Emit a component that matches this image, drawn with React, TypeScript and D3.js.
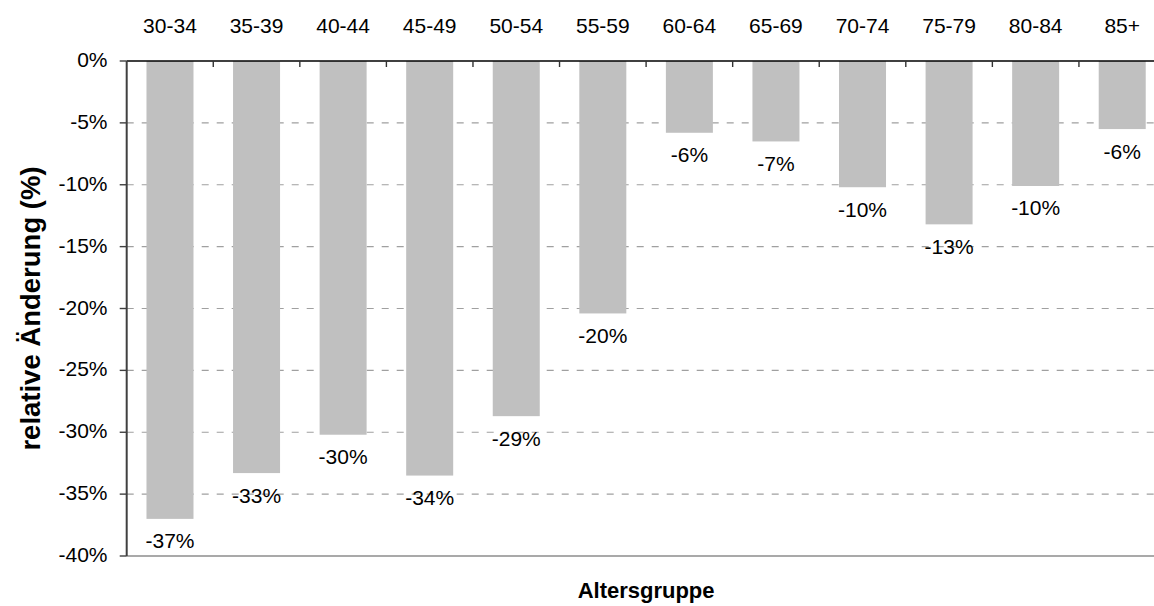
import React, { useEffect, useRef } from "react";
import * as d3 from "d3";

// Age groups and relative change in percent
const categories: string[] = [
  "30-34", "35-39", "40-44", "45-49", "50-54", "55-59",
  "60-64", "65-69", "70-74", "75-79", "80-84", "85+",
];
const changes: number[] = [
  -37.0, -33.3, -30.2, -33.5, -28.7, -20.4,
  -5.8, -6.5, -10.2, -13.2, -10.1, -5.5,
];
const yTicks: number[] = [0, -5, -10, -15, -20, -25, -30, -35, -40];

const xTitle = "Altersgruppe";
const yTitle = "relative Änderung (%)";

const W = 1154;
const H = 606;
const FONT = "'Liberation Sans', Arial, Helvetica, sans-serif";

const fmtPct = (v: number) =>
  `${v < 0 ? "-" : ""}${Math.round(Math.abs(v))}%`;

export default function App() {
  const ref = useRef<SVGSVGElement | null>(null);

  useEffect(() => {
    const svg = d3.select(ref.current);
    svg.selectAll("*").remove();

    const left = 126.7;
    const right = 1165.5;
    const top = 61;
    const bottom = 556;

    const x = d3
      .scaleBand<string>()
      .domain(categories)
      .range([left, right])
      .paddingInner(0.457)
      .paddingOuter(0.2285);

    const y = d3.scaleLinear().domain([0, -40]).range([top, bottom]);

    const g = svg.append("g");

    // horizontal gridlines (dashed), bottom line solid
    yTicks
      .filter((t) => t !== 0 && t !== -40)
      .forEach((t) => {
        g.append("line")
          .attr("x1", left)
          .attr("x2", right)
          .attr("y1", y(t))
          .attr("y2", y(t))
          .attr("stroke", "#a0a0a0")
          .attr("stroke-width", 1.2)
          .attr("stroke-dasharray", "7,8");
      });
    g.append("line")
      .attr("x1", left)
      .attr("x2", right)
      .attr("y1", y(-40))
      .attr("y2", y(-40))
      .attr("stroke", "#8c8c8c")
      .attr("stroke-width", 1.5);

    // bars
    g.selectAll("rect.bar")
      .data(categories)
      .enter()
      .append("rect")
      .attr("class", "bar")
      .attr("x", (c) => x(c)!)
      .attr("width", x.bandwidth())
      .attr("y", y(0))
      .attr("height", (_c, i) => y(changes[i]) - y(0))
      .attr("fill", "#c0c0c0");

    // value labels below each bar
    g.selectAll("text.val")
      .data(categories)
      .enter()
      .append("text")
      .attr("class", "val")
      .attr("x", (c) => x(c)! + x.bandwidth() / 2)
      .attr("y", (_c, i) => y(changes[i]) + 29.5)
      .attr("text-anchor", "middle")
      .attr("font-family", FONT)
      .attr("font-size", 21)
      .attr("fill", "#000")
      .text((_c, i) => fmtPct(changes[i]));

    // top category axis at 0%
    g.append("line")
      .attr("x1", left)
      .attr("x2", right)
      .attr("y1", y(0))
      .attr("y2", y(0))
      .attr("stroke", "#000")
      .attr("stroke-width", 1.6);
    const step = x.step();
    d3.range(1, categories.length).forEach((k) => {
      const bx = left + k * step;
      g.append("line")
        .attr("x1", bx)
        .attr("x2", bx)
        .attr("y1", y(0))
        .attr("y2", y(0) + 6)
        .attr("stroke", "#333")
        .attr("stroke-width", 1.4);
    });
    g.selectAll("text.cat")
      .data(categories)
      .enter()
      .append("text")
      .attr("class", "cat")
      .attr("x", (c) => x(c)! + x.bandwidth() / 2)
      .attr("y", 32.7)
      .attr("text-anchor", "middle")
      .attr("font-family", FONT)
      .attr("font-size", 21)
      .attr("fill", "#000")
      .text((c) => c);

    // value axis on the left
    g.append("line")
      .attr("x1", left)
      .attr("x2", left)
      .attr("y1", y(0))
      .attr("y2", y(-40))
      .attr("stroke", "#404040")
      .attr("stroke-width", 2);
    yTicks.forEach((t) => {
      g.append("line")
        .attr("x1", left - 7)
        .attr("x2", left)
        .attr("y1", y(t))
        .attr("y2", y(t))
        .attr("stroke", "#404040")
        .attr("stroke-width", 1.4);
      g.append("text")
        .attr("x", 107.5)
        .attr("y", y(t) + 6)
        .attr("text-anchor", "end")
        .attr("font-family", FONT)
        .attr("font-size", 21)
        .attr("fill", "#000")
        .text(fmtPct(t));
    });

    // axis titles
    g.append("text")
      .attr("x", (left + right) / 2)
      .attr("y", 598)
      .attr("text-anchor", "middle")
      .attr("font-family", FONT)
      .attr("font-size", 22)
      .attr("font-weight", "bold")
      .attr("fill", "#000")
      .text(xTitle);

    g.append("text")
      .attr("transform", `translate(39.5, ${(top + bottom) / 2}) rotate(-90)`)
      .attr("text-anchor", "middle")
      .attr("font-family", FONT)
      .attr("font-size", 27.5)
      .attr("font-weight", "bold")
      .attr("fill", "#000")
      .text(yTitle);
  }, []);

  return (
    <svg
      ref={ref}
      width={W}
      height={H}
      style={{ position: "absolute", left: 0, top: 0, background: "#fff" }}
    />
  );
}
